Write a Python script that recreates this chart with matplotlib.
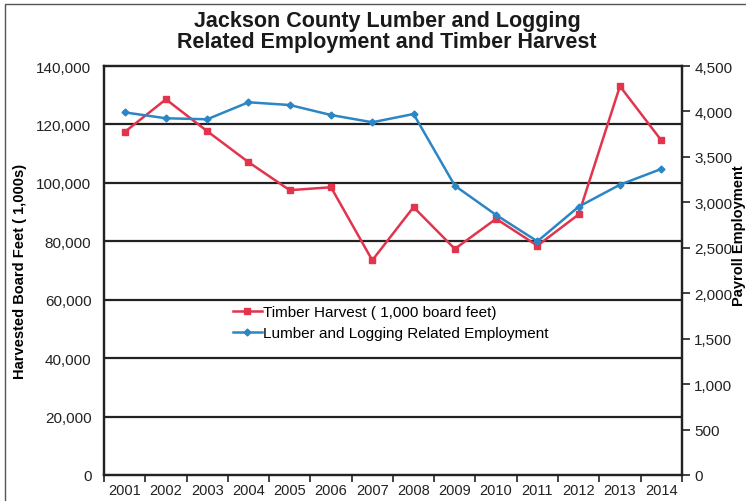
import matplotlib
matplotlib.use("Agg")
import matplotlib.pyplot as plt
from matplotlib.patches import Rectangle
from matplotlib.ticker import FuncFormatter, FixedLocator

years = ["2001", "2002", "2003", "2004", "2005", "2006", "2007",
         "2008", "2009", "2010", "2011", "2012", "2013", "2014"]
timber_harvest = [117400, 128600, 117700, 107100, 97500, 98500, 73500,
                  91700, 77400, 87700, 78500, 89200, 133100, 114600]
employment = [3990, 3925, 3914, 4101, 4071, 3961, 3881,
              3972, 3183, 2861, 2571, 2952, 3194, 3367]

left_ticks = [0, 20000, 40000, 60000, 80000, 100000, 120000, 140000]
right_ticks = [0, 500, 1000, 1500, 2000, 2500, 3000, 3500, 4000, 4500]

RED = "#E2344C"
BLUE = "#2D86C4"
plt.rcParams["font.family"] = ["Liberation Sans", "DejaVu Sans"]

fig = plt.figure(figsize=(7.46, 5.02), dpi=100)
fig.patches.append(Rectangle((0.007, -0.1), 1.2, 1.09, transform=fig.transFigure,
                             fill=False, edgecolor="#555555", linewidth=1.0))

ax = fig.add_axes([0.1394, 0.0518, 0.7746, 0.8147])
ax2 = ax.twinx()

x = list(range(1, len(years) + 1))

ax.set_ylim(0, 140000)
ax.set_xlim(0.5, len(years) + 0.5)
ax2.set_ylim(0, 4500)

for v in left_ticks[1:-1]:
    ax.axhline(v, color="#222222", linewidth=1.6, zorder=1)

h1, = ax.plot(x, timber_harvest, color=RED, linewidth=1.8, marker="s",
              markersize=5, label="Timber Harvest ( 1,000 board feet)", zorder=3)
h2, = ax2.plot(x, employment, color=BLUE, linewidth=1.8, marker="D",
               markersize=3.5, label="Lumber and Logging Related Employment", zorder=3)

ax.set_yticks(left_ticks)
ax.yaxis.set_major_formatter(FuncFormatter(lambda v, p: f"{int(v):,}"))
ax.tick_params(axis="y", length=0, pad=9, labelsize=11, colors="#222222")

ax.xaxis.set_major_locator(FixedLocator([i + 0.5 for i in range(0, len(years) + 1)]))
ax.xaxis.set_major_formatter(FuncFormatter(lambda v, p: ""))
ax.set_xticks(x, years, minor=True)
ax.tick_params(axis="x", which="major", length=5, width=1.2, direction="out", color="#222222")
ax.tick_params(axis="x", which="minor", length=0, pad=6, labelsize=10.5, labelcolor="#222222")

ax2.set_yticks(right_ticks)
ax2.yaxis.set_major_formatter(FuncFormatter(lambda v, p: f"{int(v):,}"))
ax2.tick_params(axis="y", length=6, width=1.2, direction="out", pad=3, labelsize=11,
                colors="#222222")

for a in (ax, ax2):
    for s in a.spines.values():
        s.set_color("#222222")
        s.set_linewidth(1.6)

ax.set_ylabel("Harvested Board Feet ( 1,000s)", fontsize=10.5, fontweight="bold",
              labelpad=7)
fig.text(1.0, 0.53, "Payroll Employment", rotation=90, ha="right", va="center",
         fontsize=10.5, fontweight="bold")

fig.text(0.519, 0.937, "Jackson County Lumber and Logging\nRelated Employment and Timber Harvest",
         ha="center", va="center", fontsize=15.5, fontweight="bold", linespacing=1.0,
         color="#1a1a1a")

ax.legend(handles=[h1, h2], loc="upper left", bbox_to_anchor=(0.223, 0.415),
          frameon=False, fontsize=11, handlelength=1.9, handletextpad=0.1,
          labelspacing=0.45, borderaxespad=0, borderpad=0)

fig.savefig("out.png", dpi=100)
